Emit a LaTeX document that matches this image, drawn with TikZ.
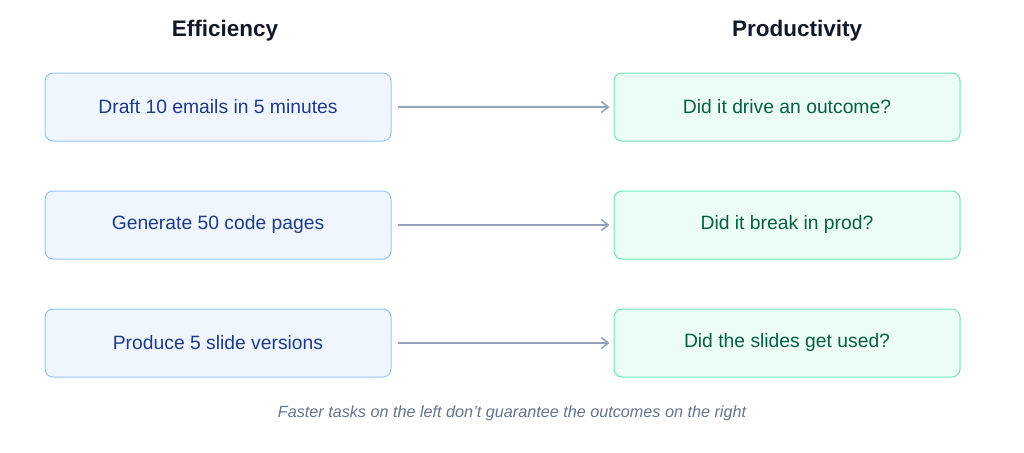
\documentclass[tikz,border=0pt]{standalone}
\usepackage{fontspec}
\setmainfont{Liberation Sans}
\usetikzlibrary{positioning,arrows.meta}
\definecolor{effFill}{HTML}{EFF6FF}
\definecolor{effLine}{HTML}{93C5FD}
\definecolor{effText}{HTML}{1E3A8A}
\definecolor{proFill}{HTML}{ECFDF5}
\definecolor{proLine}{HTML}{6EE7B7}
\definecolor{proText}{HTML}{065F46}
\definecolor{arrowGray}{HTML}{94A3B8}
\definecolor{headText}{HTML}{111827}
\definecolor{noteText}{HTML}{64748B}
\begin{document}
\begin{tikzpicture}[x=1pt, y=-1pt,
eff/.style={rectangle, rounded corners=8pt, draw=effLine, fill=effFill, line width=1pt, minimum width=346pt, minimum height=68pt, text=effText, font=\fontsize{19.3}{22}\selectfont},
pro/.style={rectangle, rounded corners=8pt, draw=proLine, fill=proFill, line width=1pt, minimum width=346pt, minimum height=68pt, text=proText, font=\fontsize{19.3}{22}\selectfont},
head/.style={text=headText, font=\fontsize{22.5}{26}\selectfont\bfseries},
link/.style={-{Straight Barb[length=7pt,width=11pt,line width=1.6pt]}, draw=arrowGray, line width=1.6pt}
]
\useasboundingbox (0,0) rectangle (1024,452);
%Headers
\node[head] (h1) at (225,31) {Efficiency};
\node[head] (h2) at (797,31) {Productivity};
%Nodes
\node[eff] (e1) at (218,107) {Draft 10 emails in 5 minutes};
\node[eff] (e2) [below=49pt of e1] {Generate 50 code pages};
\node[eff] (e3) [below=49pt of e2] {Produce 5 slide versions};
\node[pro] (p1) at (787,107) {Did it drive an outcome?};
\node[pro] (p2) [below=49pt of p1] {Did it break in prod?};
\node[pro] (p3) [below=49pt of p2] {Did the slides get used?};
%Lines
\foreach \i in {1,2,3}
  \draw[link] ([xshift=6pt]e\i.east) -- ([xshift=-4pt]p\i.west);
\node[text=noteText, font=\fontsize{16.2}{19}\selectfont\itshape] (note) at (512,413) {Faster tasks on the left don't guarantee the outcomes on the right};
\end{tikzpicture}
\end{document}
